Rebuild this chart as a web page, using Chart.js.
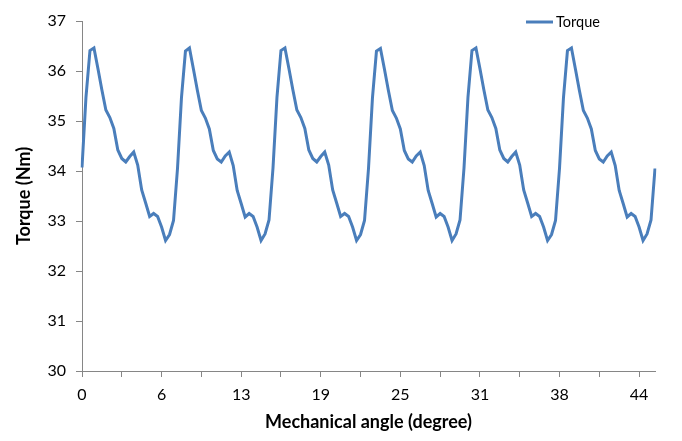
<!DOCTYPE html>
<html>
<head>
<meta charset="utf-8">
<script src="https://cdn.jsdelivr.net/npm/chart.js@4.4.1/dist/chart.umd.min.js"></script>
<style>
  html, body { margin: 0; padding: 0; background: #fff; }
  #wrap { width: 682px; height: 441px; }
</style>
</head>
<body>
<div id="wrap"><canvas id="torqueChart" width="682" height="441"></canvas></div>
<script>
// values, one point per category
const seriesName = 'Torque';
const torque = [
  34.07, 35.48, 36.41, 36.46, 36.05, 35.62, 35.22, 35.07, 34.85, 34.42, 34.25, 34.18,
  34.29, 34.38, 34.12, 33.62, 33.36, 33.09, 33.15, 33.09, 32.88, 32.61, 32.73, 33.01,
  34.05, 35.47, 36.40, 36.46, 36.04, 35.61, 35.21, 35.06, 34.84, 34.41, 34.24, 34.18,
  34.30, 34.38, 34.11, 33.61, 33.35, 33.08, 33.15, 33.09, 32.88, 32.61, 32.74, 33.02,
  34.06, 35.48, 36.41, 36.46, 36.05, 35.62, 35.22, 35.07, 34.85, 34.42, 34.25, 34.18,
  34.29, 34.38, 34.12, 33.62, 33.36, 33.09, 33.15, 33.09, 32.88, 32.61, 32.73, 33.01,
  34.05, 35.47, 36.40, 36.45, 36.04, 35.61, 35.21, 35.06, 34.84, 34.41, 34.24, 34.18,
  34.30, 34.38, 34.11, 33.61, 33.35, 33.08, 33.15, 33.09, 32.88, 32.61, 32.74, 33.02,
  34.06, 35.48, 36.41, 36.46, 36.05, 35.62, 35.22, 35.07, 34.85, 34.42, 34.25, 34.18,
  34.29, 34.38, 34.12, 33.62, 33.36, 33.09, 33.15, 33.09, 32.88, 32.61, 32.73, 33.01,
  34.05, 35.47, 36.41, 36.46, 36.04, 35.61, 35.21, 35.06, 34.84, 34.41, 34.24, 34.18,
  34.30, 34.38, 34.11, 33.61, 33.35, 33.08, 33.15, 33.09, 32.88, 32.61, 32.74, 33.02,
  34.05
];
const xTickLabels = ['0', '6', '13', '19', '25', '31', '38', '44'];
const yMin = 30;
const yMax = 37;

const categories = torque.map((_, i) => i);
const axisGray = '#868686';
const lineBlue = '#4a7ebb';
const font = 'Lato, "DejaVu Sans", sans-serif';

// legend in top right corner, like excel
const cornerLegend = {
  id: 'cornerLegend',
  afterDraw(chart) {
    const ctx = chart.ctx;
    const area = chart.chartArea;
    const y = area.top + 1;
    const x0 = area.right - 129;
    ctx.save();
    ctx.strokeStyle = lineBlue;
    ctx.lineWidth = 3;
    ctx.beginPath();
    ctx.moveTo(x0, y);
    ctx.lineTo(x0 + 27, y);
    ctx.stroke();
    ctx.fillStyle = '#000';
    ctx.font = '14.5px ' + font;
    ctx.textBaseline = 'middle';
    ctx.fillText(seriesName, x0 + 30, y);
    ctx.restore();
  }
};

new Chart(document.getElementById('torqueChart').getContext('2d'), {
  type: 'line',
  data: {
    labels: categories,
    datasets: [{
      label: seriesName,
      data: torque,
      borderColor: lineBlue,
      borderWidth: 3,
      pointRadius: 0,
      tension: 0,
      fill: false
    }]
  },
  options: {
    responsive: false,
    animation: false,
    layout: { padding: { top: 21, right: 27, left: 0, bottom: 0 } },
    plugins: {
      legend: { display: false },
      tooltip: { enabled: false }
    },
    scales: {
      x: {
        type: 'category',
        offset: false,
        grid: { drawOnChartArea: false, color: axisGray, tickLength: 6 },
        border: { color: axisGray },
        ticks: {
          autoSkip: false,
          maxRotation: 0,
          padding: 8,
          color: '#000',
          font: { family: font, size: 16 },
          callback: (val, i) => {
            if (i % 20 === 0) return xTickLabels[i / 20];
            if (i % 10 === 0) return '';
            return null;
          }
        },
        title: {
          display: true,
          text: 'Mechanical angle (degree)',
          color: '#000',
          font: { family: font, size: 18, weight: 'bold' },
          padding: { top: 4, bottom: 8 }
        },
        afterFit: s => { s.height = 70; }
      },
      y: {
        min: yMin,
        max: yMax,
        grid: { drawOnChartArea: false, color: axisGray, tickLength: 6 },
        border: { color: axisGray },
        ticks: {
          stepSize: 1,
          padding: 10,
          color: '#000',
          font: { family: font, size: 16 }
        },
        title: {
          display: true,
          text: 'Torque (Nm)',
          color: '#000',
          font: { family: font, size: 18, weight: 'bold' },
          padding: { top: 13, bottom: 4 }
        },
        afterFit: s => { s.width = 82; }
      }
    }
  },
  plugins: [cornerLegend]
});
</script>
</body>
</html>
